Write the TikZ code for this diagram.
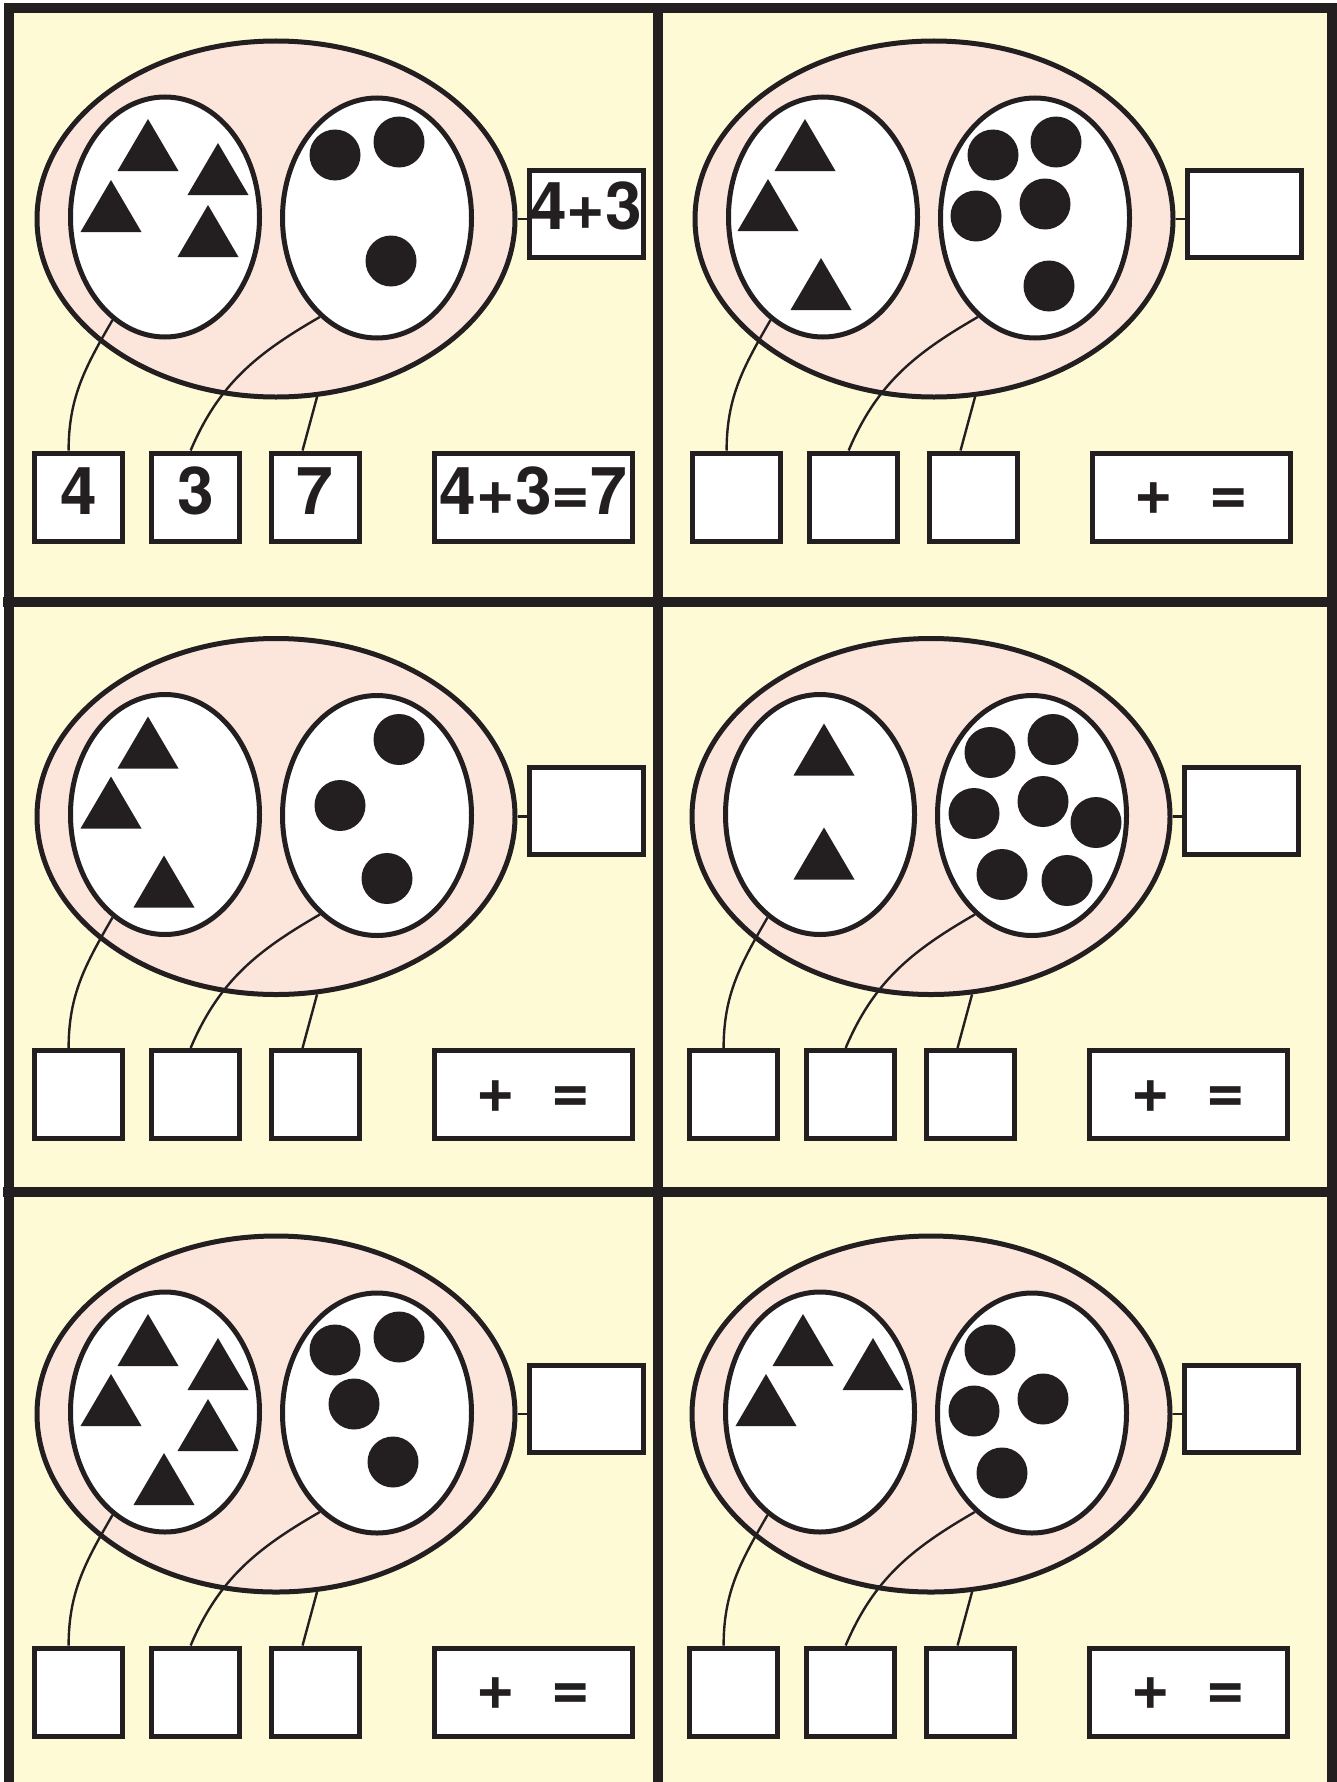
\documentclass[tikz,border=0pt]{standalone}
\usepackage{fontspec}
\setmainfont{TeX Gyre Heros}
\usepackage{tikz}
\usetikzlibrary{shapes.geometric,calc}

\definecolor{ink}{RGB}{35,31,32}
\definecolor{paper}{RGB}{255,250,214}
\definecolor{blush}{RGB}{252,230,220}

% one exercise: #1 name, #2 shift, #3 triangles, #4 dots,
% #5 sum, #6 first, #7 second, #8 total, #9 equation
\newcommand{\additionpanel}[9]{%
  \begin{scope}[shift={#2}]
    \node[bigset] (#1all) at (276,-219) {};
    \node[subset] (#1tri) at (165,-217) {};
    \node[subset] (#1dot) at (377,-218) {};
    \foreach \x/\y in {#3}
      \fill[ink] (\x-30.5,-\y) -- (\x+30.5,-\y) -- (\x,-\y+52) -- cycle;
    \foreach \x/\y in {#4}
      \fill[ink] (\x,-\y) circle[radius=25.5];
    \node[numbox,minimum width=114pt,minimum height=87pt,text depth=16pt] (#1sum) at (586,-213.5) {#5};
    \node[numbox] (#1first) at (78.5,-497) {#6};
    \node[numbox] (#1second) at (195.5,-497) {#7};
    \node[numbox] (#1total) at (315,-497) {#8};
    \node[numbox,minimum width=198pt] (#1eq) at (533.5,-497) {#9};
    \draw[link] (#1tri.243) to[out=240,in=90] (#1first.102);
    \draw[link] (#1dot.240) to[out=210,in=67] (#1second.96);
    \draw[link] (#1all.283) -- (#1total.105);
    \draw[link] (#1all.east) -- (#1all.east -| #1sum.west);
  \end{scope}}

\newcommand{\blankeq}{\phantom{4}+\phantom{3}=\phantom{7}}

\begin{document}
\begin{tikzpicture}[
  x=1pt,y=1pt,
  frame/.style={draw=ink,line width=10pt},
  bigset/.style={ellipse,draw=ink,fill=blush,line width=5pt,
    minimum width=478pt,minimum height=356pt,inner sep=0pt},
  subset/.style={ellipse,draw=ink,fill=white,line width=5pt,
    minimum width=189pt,minimum height=240pt,inner sep=0pt},
  numbox/.style={draw=ink,fill=white,line width=5pt,
    minimum width=88pt,minimum height=88pt,inner sep=0pt,text=ink,
    text depth=12pt,font=\fontsize{66}{70}\selectfont\bfseries},
  link/.style={draw=ink,line width=2.4pt}
]
  \useasboundingbox[fill=white] (0,0) rectangle (1336,-1782);
  \fill[paper] (9,-8) rectangle (1332,-1782);

  \additionpanel{p1}{(0,0)}{148/171,218/195,111/232,208/257}
    {335/155,399/142,391/261}{4+3}{4}{3}{7}{4+3=7}
  \additionpanel{p2}{(658,0)}{147/171,110/231,163/310}
    {335/155,398/142,318/216,387/204,391/286}{}{}{}{}{\blankeq}
  \additionpanel{p3}{(0,-597.5)}{148/171,111/231,164/310}
    {399/142,340/208,387/281}{}{}{}{}{\blankeq}
  \additionpanel{p4}{(655,-597.5)}{169/178,169/282}
    {335/155,398/142,319/216,388/204,441/225,347/277,412/283}{}{}{}{}{\blankeq}
  \additionpanel{p5}{(0,-1195)}{148/171,218/195,111/231,208/256,164/310}
    {335/155,399/142,354/209,393/267}{}{}{}{}{\blankeq}
  \additionpanel{p6}{(655,-1195)}{148/171,218/195,111/231}
    {335/155,319/216,388/204,347/278}{}{}{}{}{\blankeq}

  % frame and dividers
  \draw[frame] (9,-1782) -- (9,-8) -- (1332,-8) -- (1332,-1782);
  \draw[frame] (3,-602) -- (1327,-602);
  \draw[frame] (3,-1192) -- (1327,-1192);
  \draw[frame] (657.5,-8) -- (657.5,-1782);
\end{tikzpicture}
\end{document}
